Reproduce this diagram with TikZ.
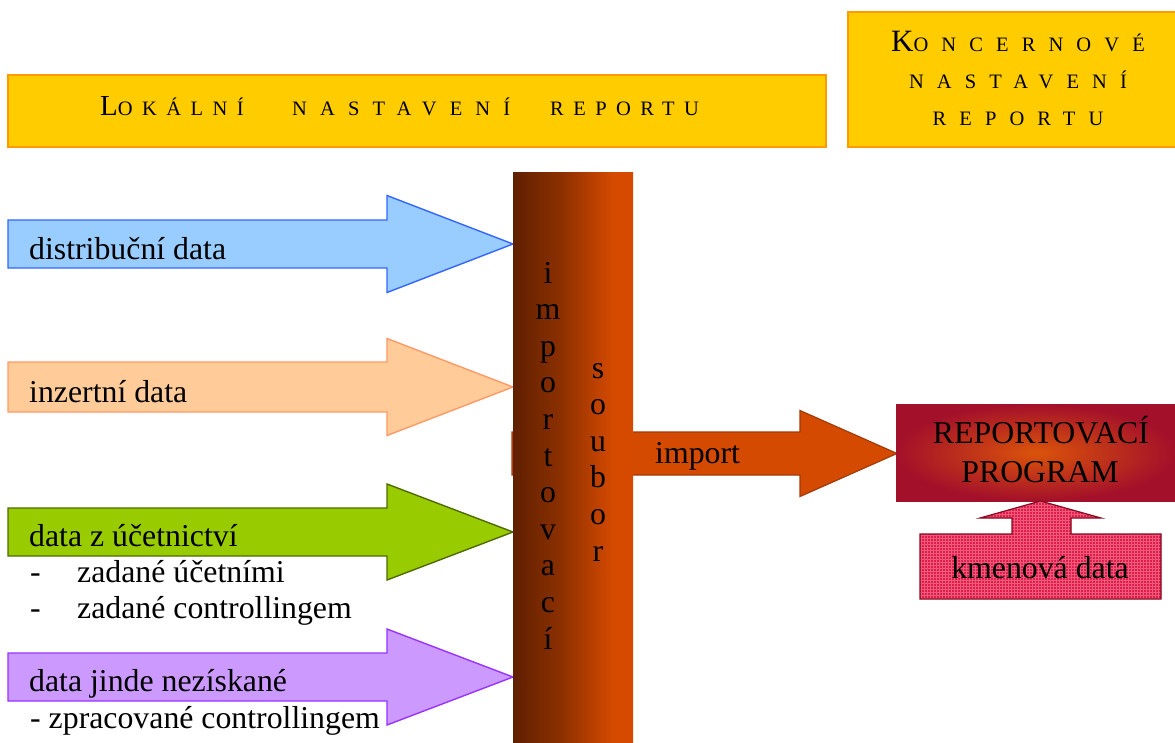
\documentclass[tikz,border=0pt]{standalone}
\usepackage{fontspec}
\setmainfont{Liberation Serif}
\newfontfamily\trackfontA[LetterSpace=46]{Liberation Serif}
\newfontfamily\trackfontB[LetterSpace=64]{Liberation Serif}
\usetikzlibrary{patterns}

\definecolor{bannerfill}{HTML}{FFCC00}
\definecolor{bannerline}{HTML}{FF9A00}
\definecolor{blueF}{HTML}{99CCFF}
\definecolor{blueL}{HTML}{3366FF}
\definecolor{peachF}{HTML}{FFCC99}
\definecolor{peachL}{HTML}{FF9966}
\definecolor{greenF}{HTML}{99CC00}
\definecolor{greenL}{HTML}{4F6B00}
\definecolor{violetF}{HTML}{CC99FF}
\definecolor{violetL}{HTML}{9933FF}
\definecolor{colL}{HTML}{602000}
\definecolor{colM}{HTML}{8C3000}
\definecolor{colR}{HTML}{D64A00}
\definecolor{impF}{HTML}{D44A00}
\definecolor{impL}{HTML}{A33A0A}
\definecolor{progIn}{HTML}{DA540A}
\definecolor{progOut}{HTML}{A3102A}
\definecolor{kmF}{HTML}{E01E4A}
\definecolor{kmGrid}{HTML}{EE5A7C}
\definecolor{kmL}{HTML}{8A0A22}

% column gradient: dark on the left, full orange near the right edge
\pgfdeclarehorizontalshading{colshade}{100bp}{color(0bp)=(colL); color(25bp)=(colL); color(45bp)=(colM); color(67bp)=(colR); color(100bp)=(colR)}

% initial capitals and tracked small capitals of the banner titles
\newcommand{\initcapA}[1]{{\trackfontA\fontsize{29}{29}\selectfont #1}}
\newcommand{\spcapsA}[1]{{\trackfontA\fontsize{20.5}{20.5}\selectfont #1}}
\newcommand{\initcapB}[1]{{\trackfontB\fontsize{31}{31}\selectfont #1}}
\newcommand{\spcapsB}[1]{{\trackfontB\fontsize{20.5}{20.5}\selectfont #1}}

% block arrow: style, left x, head start x, tip x, centre y, body half height, head half height
\newcommand{\blockarrow}[7]{%
  \draw[#1] (#2,#5-#6) -- (#3,#5-#6) -- (#3,#5-#7) -- (#4,#5)
    -- (#3,#5+#7) -- (#3,#5+#6) -- (#2,#5+#6) -- cycle;}

\tikzset{
  lbl/.style={font=\fontsize{31.8}{37}\selectfont, inner sep=0pt},
  bannerbox/.style={fill=bannerfill, draw=bannerline, line width=1.2pt},
  bluearrow/.style={fill=blueF, draw=blueL, line width=1.4pt, line join=miter},
  peacharrow/.style={fill=peachF, draw=peachL, line width=1.4pt, line join=miter},
  greenarrow/.style={fill=greenF, draw=greenL, line width=1.4pt, line join=miter},
  violetarrow/.style={fill=violetF, draw=violetL, line width=1.4pt, line join=miter},
  importarrow/.style={fill=impF, draw=impL, line width=1.2pt, line join=miter},
}

\begin{document}
\begin{tikzpicture}[x=1pt, y=-1pt]
\useasboundingbox (0,0) rectangle (1175,742);

% title banners
\draw[bannerbox] (8,75) rectangle (826,147);
\node[inner sep=0pt, anchor=base west] (locA) at (100,115) {\initcapA{L}\spcapsA{OKÁLNÍ}};
\node[inner sep=0pt, anchor=base west] (locB) at (292,115) {\spcapsB{NASTAVENÍ}};
\node[inner sep=0pt, anchor=base west] (locC) at (550,115) {\spcapsA{REPORTU}};

\draw[bannerbox] (848,12) rectangle (1180,147);
\node[inner sep=0pt, anchor=base] (konA) at (1018,51) {\initcapB{K}\spcapsB{ONCERNOVÉ}};
\node[inner sep=0pt, anchor=base] (konB) at (1018,88) {\spcapsB{NASTAVENÍ}};
\node[inner sep=0pt, anchor=base] (konC) at (1018,125) {\spcapsB{REPORTU}};

% input arrows
\blockarrow{bluearrow}{8}{387}{513}{244}{24}{48.5}
\blockarrow{peacharrow}{8}{387}{513}{387}{25}{48.5}
\blockarrow{greenarrow}{8}{387}{513}{532}{24}{48}
\blockarrow{violetarrow}{8}{387}{513}{677}{24}{48}

\node[lbl, anchor=base west] (distr) at (29,259) {distribuční data};
\node[lbl, anchor=base west] (inz) at (29,402) {inzertní data};
\node[lbl, anchor=base west] (ucto) at (29,546) {data z účetnictví};
\node[lbl, anchor=base west] (ucto1) at (30,582) {-};
\node[lbl, anchor=base west] (ucto1t) at (77,582) {zadané účetními};
\node[lbl, anchor=base west] (ucto2) at (30,618) {-};
\node[lbl, anchor=base west] (ucto2t) at (77,618) {zadané controllingem};
\node[lbl, anchor=base west] (jinde) at (29,691) {data jinde nezískané};
\node[lbl, anchor=base west] (jinde1) at (30,728) {- zpracované controllingem};

% import arrow, partly hidden behind the column
\blockarrow{importarrow}{512}{800}{897}{453.5}{21.5}{43}
\node[lbl, anchor=base west] (imptext) at (655,463) {import};

% the import file column
\path[shading=colshade] (513,172) rectangle (633,745);
\foreach \ch [count=\k] in {i,m,p,o,r,t,o,v,a,c,í}
  \node[lbl, anchor=base] (imp\k) at (548,{283+36.6*(\k-1)}) {\ch};
\foreach \ch [count=\k] in {s,o,u,b,o,r}
  \node[lbl, anchor=base] (soub\k) at (598,{378+36.6*(\k-1)}) {\ch};

% reporting program
\path[inner color=progIn, outer color=progOut] (896,404) rectangle (1176,501);
\node[lbl, anchor=base] (progA) at (1041,443) {REPORTOVACÍ};
\node[lbl, anchor=base] (progB) at (1040,482) {PROGRAM};

% master data with its upward arrow
\draw[preaction={fill=kmF}, pattern=grid, pattern color=kmGrid, draw=kmL, line width=1.2pt, line join=miter]
  (920,534) -- (1012,534) -- (1012,518) -- (980,518) -- (1040.5,501) -- (1101,518)
  -- (1071,518) -- (1071,534) -- (1161,534) -- (1161,599) -- (920,599) -- cycle;
\node[lbl, anchor=base] (km) at (1040,578) {kmenová data};

\end{tikzpicture}
\end{document}
